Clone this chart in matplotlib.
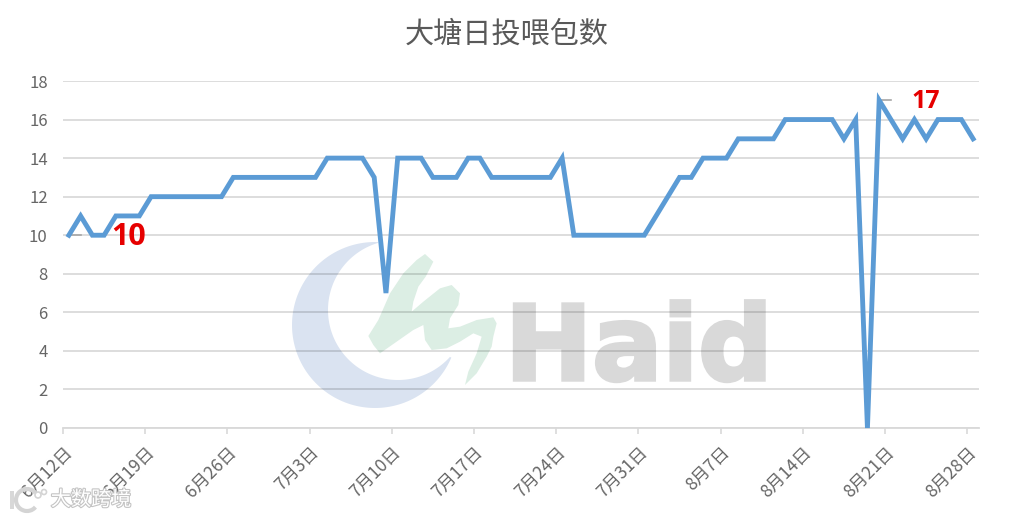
import numpy as np
import matplotlib
matplotlib.use("Agg")
import matplotlib.pyplot as plt
from matplotlib.patches import Polygon, Circle, Arc, Rectangle
from matplotlib.transforms import Affine2D
import matplotlib.patheffects as pe

plt.rcParams['font.family'] = ['Noto Sans CJK SC', 'DejaVu Sans']

title = "大塘日投喂包数"
values = [10, 11, 10, 10, 11, 11, 11, 12, 12, 12, 12, 12, 12, 12,
          13, 13, 13, 13, 13, 13, 13, 13, 14, 14, 14, 14, 13, 7,
          14, 14, 14, 13, 13, 13, 14, 14, 13, 13, 13, 13, 13, 13,
          14, 10, 10, 10, 10, 10, 10, 10, 11, 12, 13, 13, 14, 14,
          14, 15, 15, 15, 15, 16, 16, 16, 16, 16, 15, 16, 0, 17,
          16, 15, 16, 15, 16, 16, 16, 15]
tick_labels = ["6月12日", "6月19日", "6月26日", "7月3日", "7月10日", "7月17日",
               "7月24日", "7月31日", "8月7日", "8月14日", "8月21日", "8月28日"]
y_ticks = [0, 2, 4, 6, 8, 10, 12, 14, 16, 18]
tick_step = 7
label_min = "10"
label_max = "17"

W, H = 1013, 519
fig = plt.figure(figsize=(W / 100, H / 100), dpi=100, facecolor='white')
ax = fig.add_axes([63 / W, 1 - 428 / H, 916 / W, 347 / H])
ax.set_facecolor('none')
px = Affine2D().scale(1, -1).translate(0, H)

x = np.arange(len(values))
ax.plot(x, values, color='#5B9BD5', lw=3.5, solid_joinstyle='miter', zorder=3, clip_on=False)
ax.set_xlim(-0.5, len(values) - 0.5)
ax.set_ylim(0, 18)
ax.set_yticks(y_ticks)
ax.set_xticks(np.arange(len(tick_labels)) * tick_step - 0.5)
ax.set_xticklabels(tick_labels, rotation=45, ha='right', rotation_mode='anchor')
ax.set_axisbelow(True)
# translucent grid, drawn over the solid logo, so it darkens where they cross
ax.grid(axis='y', color='black', alpha=0.15, lw=1.3)
for s in ['top', 'right', 'left']:
    ax.spines[s].set_visible(False)
ax.spines['bottom'].set_color('#D9D9D9')
ax.spines['bottom'].set_linewidth(1.3)
ax.tick_params(axis='y', length=0, labelsize=12, labelcolor='#666666', pad=11)
ax.tick_params(axis='x', length=4, width=1.2, color='#D9D9D9', labelsize=12.5, labelcolor='#666666', pad=7)

fig.text(506.5 / W, 1 - 35 / H, title, ha='center', va='center', fontsize=21, color='#595959')

# Watermark logo
tip_a, tip_b = (378, 243), (450, 357)
oa1 = np.arctan2(tip_a[1] - 325, tip_a[0] - 375)
oa2 = np.arctan2(tip_b[1] - 325, tip_b[0] - 375)
outer_t = np.linspace(oa1, oa1 - (2 * np.pi - ((oa2 - oa1) % (2 * np.pi))), 120)
outer = np.c_[375 + 83 * np.cos(outer_t), 325 + 83 * np.sin(outer_t)]
ia1 = np.arctan2(tip_b[1] - 310, tip_b[0] - 398)
ia2 = np.arctan2(tip_a[1] - 310, tip_a[0] - 398)
inner_t = np.linspace(ia1, ia1 + ((ia2 - ia1) % (2 * np.pi)), 120)
inner = np.c_[398 + 70 * np.cos(inner_t), 310 + 70 * np.sin(inner_t)]
ax.add_patch(Polygon(np.r_[outer, inner], closed=True, transform=px, clip_on=False,
                     fc='#DAE3F1', ec='none', zorder=0.2))

green = np.array([(435, 72), (460, 95), (437, 140), (415, 170), (400, 215), (395, 245), (430, 215),
                  (480, 175), (515, 165), (540, 190), (535, 225), (510, 265), (505, 295), (540, 290),
                  (590, 270), (640, 262), (650, 280), (640, 320), (635, 350), (620, 380), (590, 430),
                  (555, 465), (565, 425), (590, 370), (605, 320), (580, 310), (540, 335), (500, 355),
                  (455, 360), (435, 330), (430, 285), (400, 300), (350, 335), (300, 370), (280, 345),
                  (265, 318), (295, 270), (330, 190), (370, 130), (410, 90)],
                 dtype=float) / 3 + np.array([280, 230])
ax.add_patch(Polygon(green, closed=True, transform=px, clip_on=False,
                     fc='#DCEEE4', ec='none', zorder=0.2))

ax.text(505, 380, "Haid", transform=px, family='DejaVu Sans', fontweight='bold', fontsize=75,
        color='#D9D9D9', ha='left', va='baseline', zorder=0.2, clip_on=False,
        path_effects=[pe.withStroke(linewidth=2.5, foreground='#D9D9D9', joinstyle='miter')])

# Data labels with leader lines
ax.plot([x[0], x[1]], [values[0], values[0]], color='#A6A6A6', lw=1.2, zorder=2.8)
ax.plot([x[69], x[70]], [values[69], values[69]], color='#A6A6A6', lw=1.2, zorder=2.8)
ax.annotate(label_min, (x[0], values[0]), xytext=(129, 237), textcoords=px, color='#E60000',
            fontsize=22, fontweight='bold', family='Open Sans', ha='center', va='center', zorder=5)
ax.annotate(label_max, (x[69], values[69]), xytext=(926, 102), textcoords=px, color='#E60000',
            fontsize=18, fontweight='bold', family='Open Sans', ha='center', va='center', zorder=5)

# Corner publisher watermark
halo = [pe.withStroke(linewidth=1.6, foreground='#C4C4C4')]
ax.text(91, 500, "大数跨境", transform=px, fontsize=14.5, color='white', ha='center', va='center',
        path_effects=halo, zorder=10, clip_on=False)
ax.add_patch(Rectangle((10, 491), 4, 18, transform=px, fc='#D8D8D8', ec='none', clip_on=False, zorder=10))
ax.add_patch(Arc((27, 500), 22, 22, theta1=40, theta2=320, transform=px, lw=3, ec='#D4D4D4',
                 clip_on=False, zorder=10))
ax.add_patch(Circle((38, 495), 3, transform=px, fc='white', ec='#D4D4D4', lw=1.2, clip_on=False, zorder=10))
ax.add_patch(Circle((44, 492), 2.5, transform=px, fc='white', ec='#D4D4D4', lw=1.2, clip_on=False, zorder=10))

fig.savefig("out.png", dpi=100)
